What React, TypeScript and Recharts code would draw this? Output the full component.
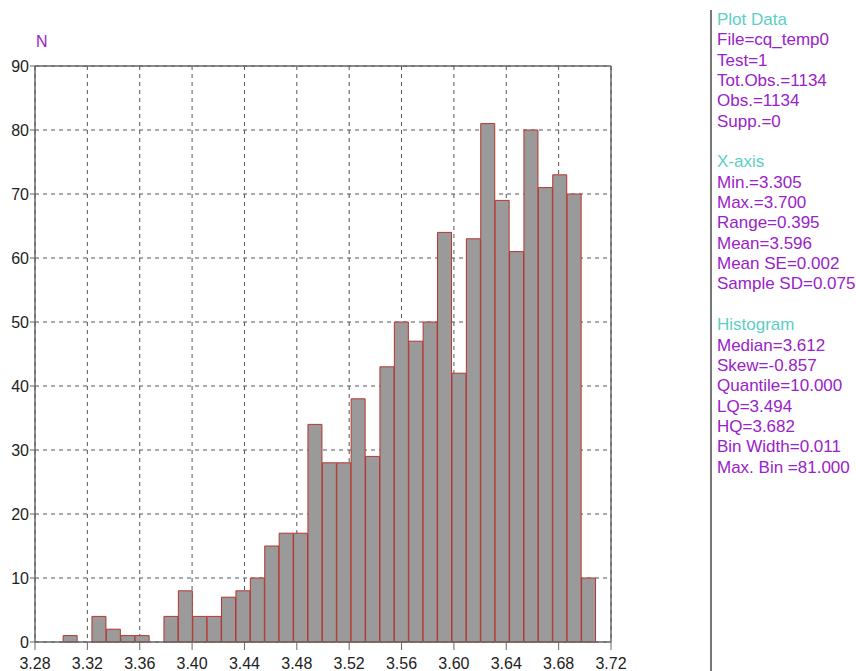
import { BarChart, Bar, XAxis, YAxis, CartesianGrid, ReferenceLine } from "recharts";

// Histogram of 1134 observations, 37 bins of width 0.011, read off the
// reference plot. Counts add up to Tot.Obs. = 1134.

const binCenters = [
  3.307, 3.318, 3.329, 3.34, 3.351, 3.362, 3.373, 3.384, 3.395, 3.406,
  3.417, 3.428, 3.439, 3.45, 3.461, 3.472, 3.483, 3.494, 3.505, 3.516,
  3.527, 3.538, 3.549, 3.56, 3.571, 3.582, 3.593, 3.604, 3.615, 3.626,
  3.637, 3.648, 3.659, 3.67, 3.681, 3.692, 3.703,
];

const counts = [
  1, 0, 4, 2, 1, 1, 0, 4, 8, 4,
  4, 7, 8, 10, 15, 17, 17, 34, 28, 28,
  38, 29, 43, 50, 47, 50, 64, 42, 63, 81,
  69, 61, 80, 71, 73, 70, 10,
];

const xTicks = [3.28, 3.32, 3.36, 3.4, 3.44, 3.48, 3.52, 3.56, 3.6, 3.64, 3.68, 3.72];
const yTicks = [0, 10, 20, 30, 40, 50, 60, 70, 80, 90];

const plotDataLines = ["File=cq_temp0", "Test=1", "Tot.Obs.=1134", "Obs.=1134", "Supp.=0"];
const xAxisLines = [
  "Min.=3.305",
  "Max.=3.700",
  "Range=0.395",
  "Mean=3.596",
  "Mean SE=0.002",
  "Sample SD=0.075",
];
const histogramLines = [
  "Median=3.612",
  "Skew=-0.857",
  "Quantile=10.000",
  "LQ=3.494",
  "HQ=3.682",
  "Bin Width=0.011",
  "Max. Bin =81.000",
];

const sections = [
  { title: "Plot Data", lines: plotDataLines },
  { title: "X-axis", lines: xAxisLines },
  { title: "Histogram", lines: histogramLines },
];

const data = binCenters.map((x, i) => ({ x, n: counts[i] }));

const FONT = '"Liberation Sans", Arial, Helvetica, sans-serif';
const PURPLE = "#9a22c8";
const TEAL = "#5ccfc4";
const AXIS = "#666";

export default function App() {
  return (
    <div
      style={{
        position: "absolute",
        left: 0,
        top: 0,
        width: 856,
        height: 671,
        background: "#fff",
        fontFamily: FONT,
        overflow: "hidden",
      }}
    >
      <div
        style={{
          position: "absolute",
          left: 36,
          top: 33,
          fontSize: 16,
          color: PURPLE,
        }}
      >
        N
      </div>

      <BarChart
        width={640}
        height={671}
        data={data}
        margin={{ top: 66, right: 29, bottom: 0, left: 0 }}
        barCategoryGap={0}
        barGap={0}
        style={{ position: "absolute", left: 0, top: 0 }}
      >
        <CartesianGrid stroke="#555" strokeDasharray="4 4" />
        <XAxis
          dataKey="x"
          type="number"
          domain={[3.28, 3.72]}
          ticks={xTicks}
          tickFormatter={(v: number) => v.toFixed(2)}
          height={29}
          tickSize={8}
          tickMargin={8}
          tick={{ fontSize: 16, fill: "#222", fontFamily: FONT }}
          axisLine={{ stroke: AXIS, strokeWidth: 1.5 }}
          tickLine={{ stroke: AXIS }}
          interval={0}
          allowDataOverflow
        />
        <YAxis
          domain={[0, 90]}
          ticks={yTicks}
          width={35}
          tickSize={5}
          tickMargin={1}
          tick={{ fontSize: 16, fill: "#222", fontFamily: FONT }}
          axisLine={{ stroke: AXIS, strokeWidth: 1.5 }}
          tickLine={{ stroke: AXIS }}
          interval={0}
        />
        <Bar
          dataKey="n"
          fill="#9a9a9a"
          stroke="#b5352f"
          strokeWidth={1}
          isAnimationActive={false}
        />
        <ReferenceLine y={90} stroke={AXIS} strokeWidth={1.5} />
        <ReferenceLine x={3.72} stroke={AXIS} strokeWidth={1.5} />
      </BarChart>

      <div
        style={{
          position: "absolute",
          left: 710,
          top: 10,
          width: 2,
          height: 661,
          background: "#777",
        }}
      />
      <div
        style={{
          position: "absolute",
          left: 717,
          top: 10,
          fontSize: 17,
          lineHeight: "20.35px",
          whiteSpace: "nowrap",
        }}
      >
        {sections.map((s, i) => (
          <div key={s.title} style={{ marginTop: i === 0 ? 0 : 20.35 }}>
            <div style={{ color: TEAL }}>{s.title}</div>
            {s.lines.map((l) => (
              <div key={l} style={{ color: PURPLE }}>
                {l}
              </div>
            ))}
          </div>
        ))}
      </div>
    </div>
  );
}
